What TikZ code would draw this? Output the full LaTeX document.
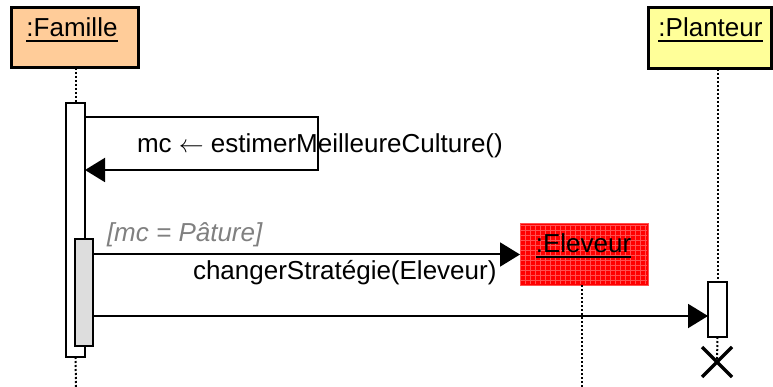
\documentclass[tikz,border=0pt]{standalone}
\usepackage{fontspec}
\setmainfont{Liberation Sans}
\usetikzlibrary{arrows.meta}
\definecolor{famfill}{HTML}{FFCC99}
\definecolor{planfill}{HTML}{FFFF99}
\definecolor{actgray}{HTML}{DDDDDD}
\definecolor{guardgray}{HTML}{808080}
\definecolor{elered}{HTML}{FF0000}
\definecolor{elegrid}{HTML}{FF5050}
\begin{document}
\begin{tikzpicture}[x=1pt,y=-1pt,
  lbl/.style={font=\fontsize{26}{30}\selectfont, inner sep=0pt, outer sep=0pt},
  objbox/.style={draw=black, line width=3pt, inner sep=0pt, outer sep=0pt, anchor=north west},
  actbox/.style={draw=black, line width=2pt, fill=white, inner sep=0pt, outer sep=0pt, anchor=north west},
  life/.style={line width=2pt, dash pattern=on 2pt off 2pt},
  msg/.style={line width=2pt, -{Triangle[length=20pt,width=24pt]}},
  uline/.style={line width=2pt},
]
\useasboundingbox (0,0) rectangle (773,387);

% objects
\node[objbox, fill=famfill, minimum width=127pt, minimum height=60pt] (fam) at (11,8) {};
\node[lbl, anchor=base] (famt) at (72,37) {:Famille};
\draw[uline] ([yshift=-4.5pt]famt.base west) -- ([yshift=-4.5pt]famt.base east);

\node[objbox, fill=planfill, minimum width=123pt, minimum height=61pt] (plan) at (648,8) {};
\node[lbl, anchor=base] (plant) at (710.5,37) {:Planteur};
\draw[uline] ([yshift=-4.5pt]plant.base west) -- ([yshift=-4.5pt]plant.base east);

% Eleveur (created object)
\node[draw=elegrid, line width=1pt, fill=elered, inner sep=0pt, outer sep=0pt, anchor=north west,
      minimum width=128pt, minimum height=61pt] (ele) at (520,224) {};
\draw[elegrid, line width=0.5pt, step=5pt] (521,225) grid (647,284);
\node[lbl, anchor=base] (elet) at (583.5,253) {:Eleveur};
\draw[uline] ([yshift=-4pt]elet.base west) -- ([yshift=-4pt]elet.base east);

% activations
\node[actbox, minimum width=19pt, minimum height=254pt] (famact) at (66,103) {};
\node[actbox, fill=actgray, minimum width=18pt, minimum height=107pt] (famact2) at (75,239) {};
\node[actbox, minimum width=19pt, minimum height=55pt] (plantact) at (708,282) {};

% lifelines
\draw[life] (fam.south -| famact.north) -- (famact.north);
\coordinate (famend) at (76,387);
\draw[life] (famact.south) -- (famend);
\draw[life] (plan.south -| plantact.north) -- (plantact.north);
\coordinate (xend) at (717,362);
\draw[life] (plantact.south) -- (xend);
\coordinate (eleend) at (582,387);
\draw[life] (ele.south -| eleend) -- (eleend);

% destruction
\draw[line width=3.5pt] ([shift={(-15,-15)}]xend) -- ([shift={(15,15)}]xend)
                        ([shift={(-15,15)}]xend) -- ([shift={(15,-15)}]xend);

% self message
\coordinate (s1) at (318,117);
\coordinate (s2) at (318,170);
\draw[msg] (famact.east |- s1) -- (s1) -- (s2) -- (famact.east |- s2);
\node[lbl, anchor=base west] (selft) at (137,153) {mc {\fontsize{23}{26}\selectfont$\leftarrow$} estimerMeilleureCulture()};

% create message
\draw[msg] (famact2.east |- ele.west) -- (ele.west);
\node[lbl, anchor=base west, text=guardgray, font=\fontsize{26}{30}\selectfont\itshape] (guard) at (107,241) {[mc = Pâture]};
\node[lbl, anchor=base west] (crt) at (193,279) {changerStratégie(Eleveur)};

% message to Planteur
\coordinate (m3) at (0,316);
\draw[msg] (famact2.east |- m3) -- (plantact.west |- m3);
\end{tikzpicture}
\end{document}
